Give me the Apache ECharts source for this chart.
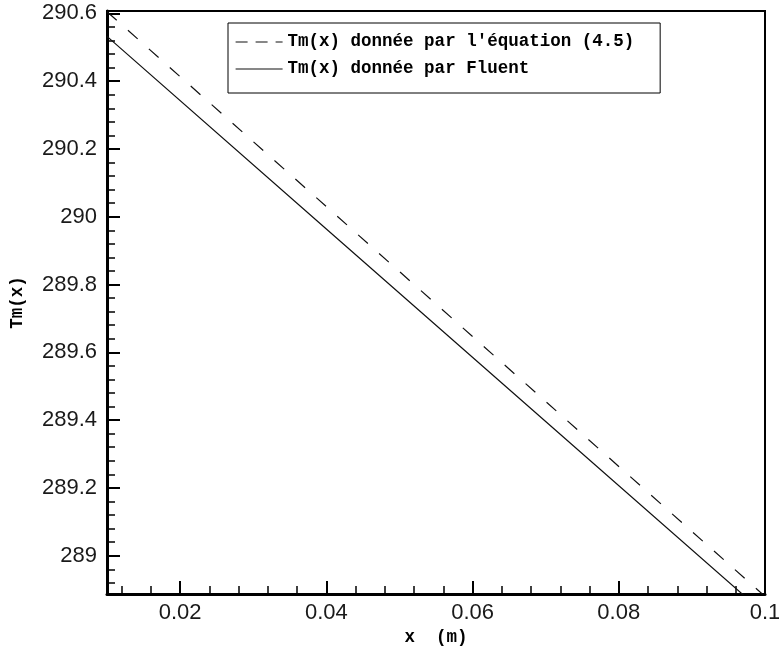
<!DOCTYPE html>
<html>
<head>
<meta charset="utf-8">
<script src="https://cdn.jsdelivr.net/npm/echarts@6/dist/echarts.min.js"></script>
<style>
  html, body { margin: 0; padding: 0; background: #fff; }
  #chart { width: 779px; height: 647px; }
</style>
</head>
<body>
<div id="chart"></div>
<script>
// Mean temperature along the duct, x in metres
const xValues = [0.01, 0.04, 0.07, 0.1];
const tmEquation = [290.605, 290.030, 289.455, 288.880];
const tmFluent = [290.532, 289.964, 289.396, 288.828];

const seriesNames = ["Tm(x) donnée par l'équation (4.5)", "Tm(x) donnée par Fluent"];
const xRange = [0.01, 0.1];
const yRange = [288.887, 290.607];

const pairs = (xs, ys) => xs.map((x, i) => [x, ys[i]]);

const labelFont = { fontFamily: 'Liberation Sans', fontSize: 22, color: '#1a1a1a' };
const titleFont = { fontFamily: 'Liberation Mono', fontWeight: 'bold', fontSize: 17.5, color: '#000' };

const chart = echarts.init(document.getElementById('chart'));
chart.setOption({
  animation: false,
  backgroundColor: '#fff',
  grid: {
    left: 107, right: 14, top: 11, bottom: 53,
    outerBoundsMode: 'none', containLabel: false,
    show: true, borderColor: '#000', borderWidth: 2, backgroundColor: 'transparent'
  },
  legend: {
    orient: 'vertical',
    left: 228, top: 23,
    padding: [9, 26, 14, 7],
    itemWidth: 47, itemHeight: 14, itemGap: 7,
    backgroundColor: '#fff',
    borderColor: '#000', borderWidth: 1,
    itemStyle: { color: 'transparent', borderWidth: 0, opacity: 0 },
    textStyle: Object.assign({}, titleFont, { lineHeight: 20 }),
    data: [
      { name: seriesNames[0], lineStyle: { type: [12, 8], width: 1.2, color: '#111' } },
      { name: seriesNames[1], lineStyle: { type: 'solid', width: 1.2, color: '#111' } }
    ]
  },
  xAxis: [
    {
      type: 'value', min: xRange[0], max: xRange[1],
      minInterval: 0.02, maxInterval: 0.02,
      name: 'x  (m)', nameLocation: 'middle', nameGap: 32,
      nameTextStyle: titleFont,
      axisLine: { show: true, lineStyle: { color: '#000', width: 3 } },
      axisTick: { show: true, inside: true, length: 13, lineStyle: { color: '#000', width: 2 } },
      axisLabel: Object.assign({ margin: 8, showMinLabel: false }, labelFont),
      splitLine: { show: false }
    },
    {
      // minor ticks every 0.004
      type: 'value', min: xRange[0], max: xRange[1],
      minInterval: 0.004, maxInterval: 0.004,
      position: 'bottom',
      axisLine: { show: false },
      axisTick: { show: true, inside: true, length: 8, lineStyle: { color: '#000', width: 1.5 } },
      axisLabel: { show: false },
      splitLine: { show: false }
    }
  ],
  yAxis: [
    {
      type: 'value', min: yRange[0], max: yRange[1],
      minInterval: 0.2, maxInterval: 0.2,
      name: 'Tm(x)', nameLocation: 'middle', nameGap: 80, nameRotate: 90,
      nameTextStyle: titleFont,
      axisLine: { show: true, lineStyle: { color: '#000', width: 3 } },
      axisTick: { show: true, inside: true, length: 13, lineStyle: { color: '#000', width: 2 } },
      axisLabel: Object.assign({ margin: 10, showMinLabel: false, showMaxLabel: false }, labelFont),
      splitLine: { show: false }
    },
    {
      // minor ticks every 0.04
      type: 'value', min: yRange[0], max: yRange[1],
      minInterval: 0.04, maxInterval: 0.04,
      position: 'left',
      axisLine: { show: false },
      axisTick: { show: true, inside: true, length: 8, lineStyle: { color: '#000', width: 1.5 } },
      axisLabel: { show: false },
      splitLine: { show: false }
    }
  ],
  series: [
    {
      name: seriesNames[0], type: 'line', symbol: 'none',
      data: pairs(xValues, tmEquation),
      lineStyle: { color: '#111', width: 1.2, type: [13, 15] },
      itemStyle: { color: '#111' }
    },
    {
      name: seriesNames[1], type: 'line', symbol: 'none',
      data: pairs(xValues, tmFluent),
      lineStyle: { color: '#111', width: 1.2, type: 'solid' },
      itemStyle: { color: '#111' }
    }
  ]
});
</script>
</body>
</html>
